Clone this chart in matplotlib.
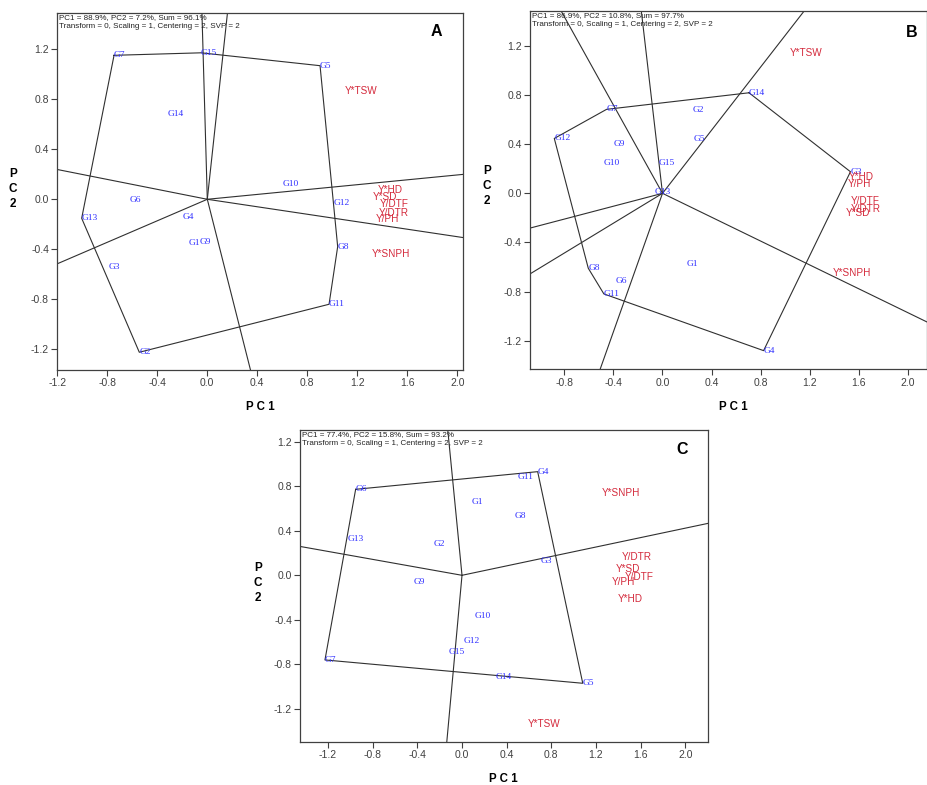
import numpy as np
import matplotlib
matplotlib.use('Agg')
import matplotlib.pyplot as plt

plt.rcParams['font.family'] = 'Liberation Sans'
plt.rcParams['axes.unicode_minus'] = False

W, H = 928, 785

genos = ['G1', 'G2', 'G3', 'G4', 'G5', 'G6', 'G7', 'G8', 'G9', 'G10',
         'G11', 'G12', 'G13', 'G14', 'G15']

# panel A
a_gx = [-0.152, -0.544, -0.792, -0.197, 0.902, -0.624, -0.746, 1.043, -0.058, 0.603,
        0.974, 1.008, -1.005, -0.317, -0.05]
a_gy = [-0.347, -1.224, -0.544, -0.144, 1.069, -0.003, 1.152, -0.379, -0.344, 0.122,
        -0.84, -0.032, -0.152, 0.682, 1.172]
a_traits = ['Y*TSW', 'Y*HD', 'Y*SD', 'Y/DTF', 'Y/DTR', 'Y/PH', 'Y*SNPH']
a_tx = [1.096, 1.363, 1.323, 1.376, 1.368, 1.35, 1.315]
a_ty = [0.869, 0.074, 0.021, -0.04, -0.107, -0.16, -0.438]
a_hull = ['G7', 'G15', 'G5', 'G8', 'G11', 'G2', 'G13']
a_info = 'PC1 = 88.9%, PC2 = 7.2%, Sum = 96.1%'

# panel B
b_gx = [0.195, 0.249, 1.532, 0.824, 0.255, -0.383, -0.456, -0.605, -0.402, -0.478,
        -0.478, -0.882, -0.068, 0.705, -0.030]
b_gy = [-0.575, 0.678, 0.176, -1.281, 0.442, -0.714, 0.684, -0.610, 0.399, 0.249,
        -0.819, 0.447, 0.013, 0.819, 0.244]
b_traits = ['Y*TSW', 'Y*HD', 'Y/PH', 'Y/DTF', 'Y/DTR', 'Y*SD', 'Y*SNPH']
b_tx = [1.036, 1.518, 1.51, 1.538, 1.532, 1.491, 1.388]
b_ty = [1.147, 0.130, 0.073, -0.063, -0.13, -0.158, -0.651]
b_hull = ['G14', 'G3', 'G4', 'G11', 'G8', 'G12', 'G7']
b_info = 'PC1 = 86.9%, PC2 = 10.8%, Sum = 97.7%'

# panel C
c_gx = [0.087, -0.251, 0.708, 0.678, 1.082, -0.953, -1.228, 0.475, -0.43, 0.116,
        0.499, 0.012, -1.024, 0.305, -0.123]
c_gy = [0.662, 0.282, 0.129, 0.933, -0.972, 0.774, -0.762, 0.536, -0.063, -0.366,
        0.882, -0.591, 0.324, -0.913, -0.693]
c_traits = ['Y*SNPH', 'Y/DTR', 'Y*SD', 'Y/DTF', 'Y/PH', 'Y*HD', 'Y*TSW']
c_tx = [1.252, 1.431, 1.377, 1.454, 1.341, 1.395, 0.585]
c_ty = [0.738, 0.167, 0.057, -0.013, -0.058, -0.216, -1.338]
c_hull = ['G6', 'G4', 'G5', 'G7']
c_info = 'PC1 = 77.4%, PC2 = 15.8%, Sum = 93.2%'

info2 = 'Transform = 0, Scaling = 1, Centering = 2, SVP = 2'
ticks = [-1.2, -0.8, -0.4, 0.0, 0.4, 0.8, 1.2, 1.6, 2.0]


def px_box(l, r, t, b):
    return [l / W, (H - b) / H, (r - l) / W, (b - t) / H]


def biplot(ax, gx, gy, tx, ty, traits, hull, info, letter, lpos, xlim, ylim):
    ax.set_xlim(*xlim)
    ax.set_ylim(*ylim)
    pts = {g: (x, y) for g, x, y in zip(genos, gx, gy)}
    hx = [pts[g][0] for g in hull] + [pts[hull[0]][0]]
    hy = [pts[g][1] for g in hull] + [pts[hull[0]][1]]
    ax.plot(hx, hy, color='#303030', lw=0.8)
    # rays from origin perpendicular to each side of the polygon
    for i in range(len(hull)):
        x1, y1 = hx[i], hy[i]
        x2, y2 = hx[i + 1], hy[i + 1]
        n = np.array([y2 - y1, -(x2 - x1)])
        if n @ np.array([(x1 + x2) / 2, (y1 + y2) / 2]) < 0:
            n = -n
        n = n / np.linalg.norm(n) * 10
        ax.plot([0, n[0]], [0, n[1]], color='#303030', lw=0.8)
    for g, x, y in zip(genos, gx, gy):
        ax.text(x, y, g, color='#3030ff', fontsize=6.8, family='Liberation Serif',
                ha='left', va='center')
    for t, x, y in zip(traits, tx, ty):
        ax.text(x, y, t, color='#d42a3c', fontsize=7.2, ha='left', va='center')
    ax.text(0.004, 0.997, info + '\n' + info2, transform=ax.transAxes, fontsize=5.8,
            va='top', ha='left', color='#222222', linespacing=1.45)
    ax.text(lpos[0], lpos[1], letter, transform=ax.transAxes, fontsize=11.5,
            fontweight='bold', ha='center', va='center')
    ax.set_xticks([t for t in ticks if xlim[0] <= t <= xlim[1]])
    ax.set_yticks([t for t in ticks if ylim[0] <= t <= ylim[1]])
    ax.xaxis.set_major_formatter(matplotlib.ticker.FormatStrFormatter('%.1f'))
    ax.yaxis.set_major_formatter(matplotlib.ticker.FormatStrFormatter('%.1f'))
    ax.tick_params(labelsize=7.5, colors='#404040', length=4, width=0.8, pad=2)
    for s in ax.spines.values():
        s.set_color('#404040')
        s.set_linewidth(0.9)


fig = plt.figure(figsize=(W / 100, H / 100), dpi=100)

axA = fig.add_axes(px_box(57.3, 463.3, 12.7, 370))
biplot(axA, a_gx, a_gy, a_tx, a_ty, a_traits, a_hull, a_info, 'A', (0.933, 0.947),
       (-1.2, 2.048), (-1.366, 1.493))

axB = fig.add_axes(px_box(530, 927.5, 11, 369.3))
biplot(axB, b_gx, b_gy, b_tx, b_ty, b_traits, b_hull, b_info, 'B', (0.961, 0.939),
       (-1.08, 2.16), (-1.433, 1.485))

axC = fig.add_axes(px_box(300.3, 708.3, 430, 741.7))
biplot(axC, c_gx, c_gy, c_tx, c_ty, c_traits, c_hull, c_info, 'C', (0.935, 0.937),
       (-1.449, 2.207), (-1.498, 1.308))

# axis titles
for (x1, y1), (x2, y2) in [((260, 407), (13, 189)),
                           ((733, 407), (487, 186)),
                           ((503, 779), (258, 583))]:
    fig.text(x1 / W, 1 - y1 / H, 'P C 1', fontsize=8.3, fontweight='bold',
             ha='center', va='center')
    fig.text(x2 / W, 1 - y2 / H, 'P\nC\n2', fontsize=8.5, fontweight='bold',
             ha='center', va='center', linespacing=1.3)

fig.savefig('out.png', dpi=100)
